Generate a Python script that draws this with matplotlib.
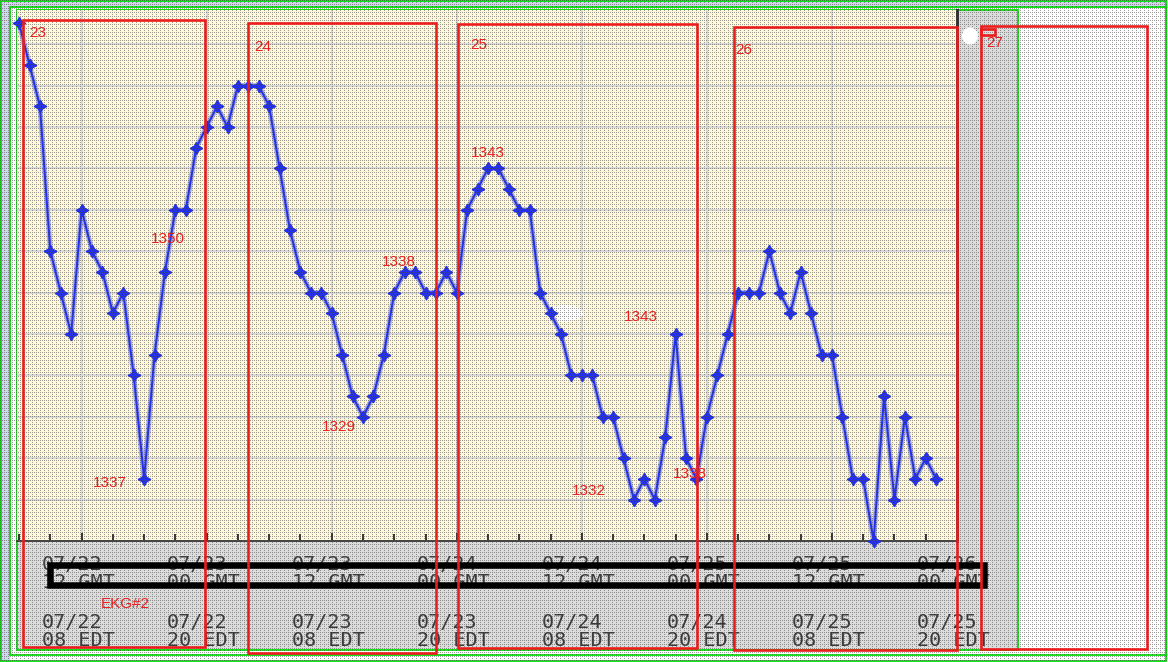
import numpy as np
import matplotlib
matplotlib.use('Agg')
import matplotlib.pyplot as plt
from matplotlib.patches import Rectangle, Ellipse

# hourly readings from 07/22 02 EDT (hour 0 = 07/22 08 EDT), one gridline = 2 units
hours = np.arange(-6, 83)
values = [25, 23, 21, 14, 12, 10, 16, 14, 13, 11, 12, 8, 3, 9, 13, 16, 16, 19, 20, 21, 20, 22, 22, 22,
          21, 18, 15, 13, 12, 12, 11, 9, 7, 6, 7, 9, 12, 13, 13, 12, 12, 13, 12, 16, 17, 18, 18,
          17, 16, 16, 12, 11, 10, 8, 8, 8, 6, 6, 4, 2, 3, 2, 5, 10, 4, 3, 6, 8, 10, 12,
          12, 12, 14, 12, 11, 13, 11, 9, 9, 6, 3, 3, 0, 7, 2, 6, 3, 4, 3]

tick_hours = [0, 12, 24, 36, 48, 60, 72, 84]
gmt_dates = ['07/22', '07/23', '07/23', '07/24', '07/24', '07/25', '07/25', '07/26']
gmt_times = ['12 GMT', '00 GMT', '12 GMT', '00 GMT', '12 GMT', '00 GMT', '12 GMT', '00 GMT']
edt_dates = ['07/22', '07/22', '07/23', '07/23', '07/24', '07/24', '07/25', '07/25']
edt_times = ['08 EDT', '20 EDT', '08 EDT', '20 EDT', '08 EDT', '20 EDT', '08 EDT', '20 EDT']

box_labels = ['23', '24', '25', '26', '27']
note_labels = ['1350', '1337', '1329', '1338', '1343', '1343', '1332', '1338', 'EKG#2']

W, H = 1168, 662
RED = '#ec1c1c'
GREEN = '#00e000'
PX = 0.72  # points per pixel at dpi 100

fig = plt.figure(figsize=(W / 100, H / 100), dpi=100)
fig.patch.set_facecolor('white')

# screen background (pixel coordinates)
bg = fig.add_axes([0, 0, 1, 1], zorder=0, label='bg')
bg.set_xlim(0, W)
bg.set_ylim(H, 0)
bg.axis('off')
bg.add_patch(Rectangle((0, 0), W, 8, color='#cfd6e9', lw=0))
bg.add_patch(Rectangle((0, 0), 10, H, color='#cfd6e9', lw=0))
bg.add_patch(Rectangle((17, 10), 1001, 640, color='#dcdcdc', lw=0))
for x0, y0, x1, y1 in [(1, 1, 1166, 661), (10, 7, 1166, 655), (17, 10, 1018, 650)]:
    bg.add_patch(Rectangle((x0, y0), x1 - x0, y1 - y0, fill=False, ec=GREEN, lw=1.8 * PX))

# main chart
ax = fig.add_axes([17 / W, (H - 541) / H, 940 / W, 531 / H], zorder=1, label='main')
ax.set_facecolor('#fff8dc')
ax.set_xlim(-6.2, 84)
ax.set_ylim(0, 25.65)
ax.set_xticks(tick_hours)
ax.set_xticks(np.arange(-6, 84, 3), minor=True)
ax.set_yticks(np.arange(0, 25, 2))
ax.grid(True, which='major', color='#d8d8d8', lw=2 * PX)
ax.tick_params(axis='x', which='both', direction='in', labelbottom=False, colors='#333333')
ax.tick_params(axis='x', which='major', length=6, width=1.4)
ax.tick_params(axis='x', which='minor', length=5, width=1.4)
ax.tick_params(axis='y', length=0, labelleft=False)
for s in ['top', 'left']:
    ax.spines[s].set_visible(False)
ax.spines['bottom'].set_color('#222222')
ax.spines['bottom'].set_linewidth(1.6 * PX)
ax.spines['right'].set_color('#333333')
ax.spines['right'].set_linewidth(3 * PX)

# erased patch on the screen, under the trace
ax.add_patch(Ellipse((46.3, 11.0), 3.6, 0.8, color='white', lw=0, zorder=2.5))

ax.plot(hours, values, color='#8f98ff', lw=5 * PX, alpha=0.8, clip_on=False, zorder=3,
        solid_joinstyle='round')
ax.plot(hours, values, color='#1f2eff', lw=2 * PX, marker=(4, 1, 0), ms=9, mfc='#1f2eff',
        mec='#1f2eff', clip_on=False, zorder=4)

mono = dict(family='DejaVu Sans Mono', fontsize=14.5, color='#3a3a3a')
rows = [(gmt_dates, -23), (gmt_times, -42), (edt_dates, -81), (edt_times, -100)]
for labels, dy in rows:
    for h, lab in zip(tick_hours, labels):
        ax.annotate(lab, xy=(h, 0), xycoords=('data', 'axes fraction'), xytext=(-40, dy),
                    textcoords='offset pixels', ha='left', va='center',
                    annotation_clip=False, **mono)

# markup layer above the screen raster (pixel coordinates)
top = fig.add_axes([0, 0, 1, 1], zorder=30, label='top')
top.set_xlim(0, W)
top.set_ylim(H, 0)
top.axis('off')
top.patch.set_alpha(0)
top.add_patch(Rectangle((50, 565), 933.5, 20, fill=False, ec='black', lw=6.5 * PX))
for x0, y0, x1, y1 in [(23, 20, 205, 647), (248, 23, 436, 653), (458, 24, 697, 648),
                       (734, 27, 957, 650), (981, 26, 1147, 649), (981, 29, 995, 35)]:
    top.add_patch(Rectangle((x0, y0), x1 - x0, y1 - y0, fill=False, ec=RED, lw=2.6 * PX))
top.add_patch(Ellipse((970, 36), 16, 17, color='white', lw=0))

red_font = dict(family='Liberation Sans', fontsize=11, color=RED, ha='center', va='center',
                transform=ax.transData, clip_on=False)
box_pos = [(-4.2, 24.55), (17.4, 23.85), (38.1, 23.95), (63.5, 23.7), (87.6, 24.05)]
for lab, (x, y) in zip(box_labels, box_pos):
    top.text(x, y, lab, **red_font)
note_pos = [(8.3, 14.6), (2.7, 2.8), (24.7, 5.5), (30.4, 13.5), (39.0, 18.75),
            (53.7, 10.8), (48.7, 2.4), (58.4, 3.25), (4.2, -3.05)]
for lab, (x, y) in zip(note_labels, note_pos):
    top.text(x, y, lab, **red_font)

# screen dot raster over the screenshot, below the markup
yy, xx = np.mgrid[0:H, 0:W]
mask = ((yy % 4 == 0) & (xx % 2 == 0)) | ((xx % 4 == 0) & (yy % 2 == 0))
dots = np.zeros((H, W, 4))
dots[mask] = [0.3, 0.3, 0.3, 0.55]
fig.figimage(dots, xo=0, yo=0, origin='upper', zorder=20)

fig.savefig('out.png', dpi=100)
